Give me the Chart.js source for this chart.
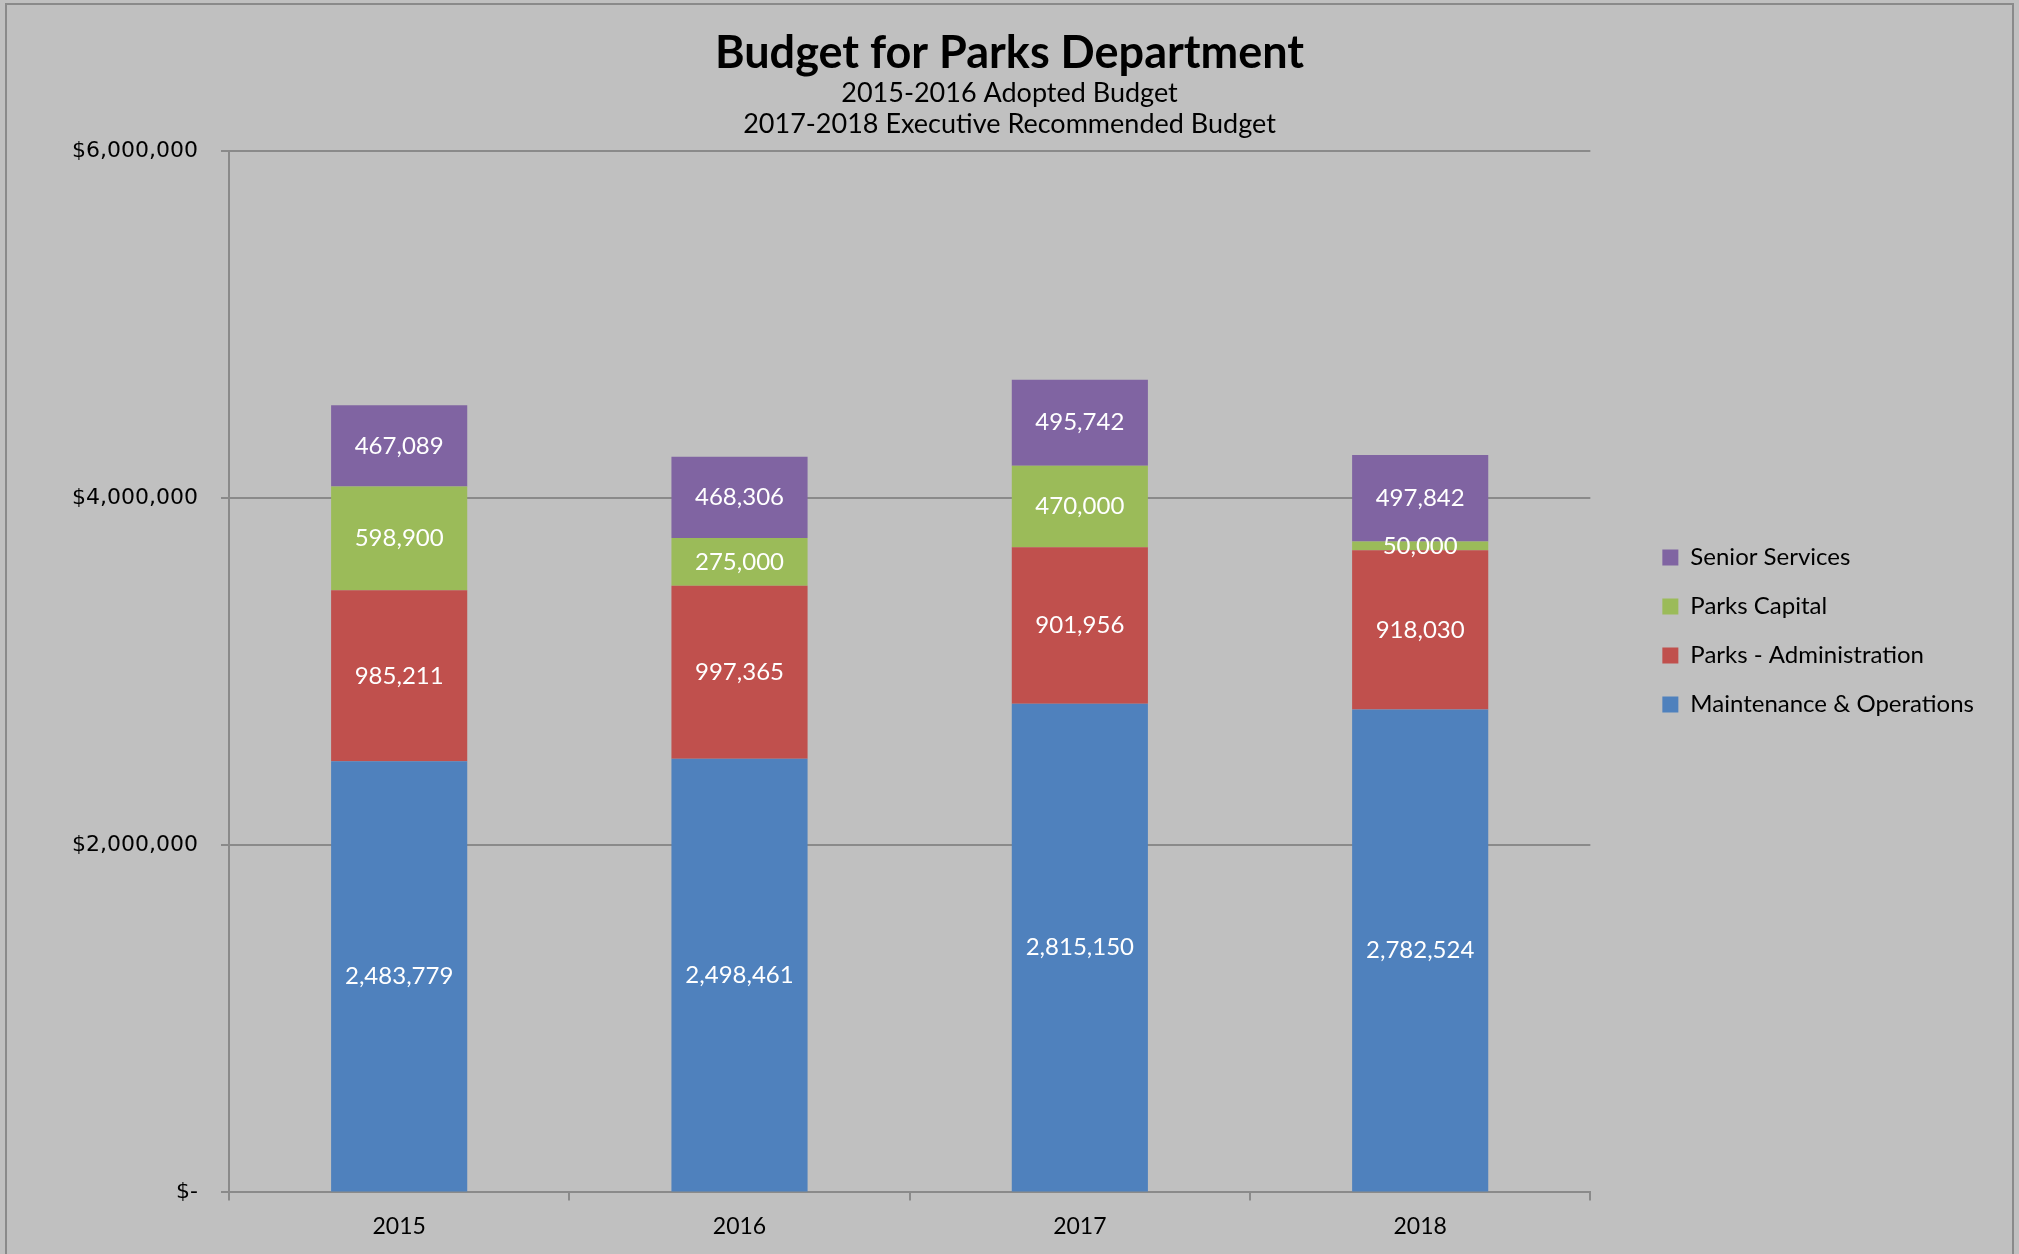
<!DOCTYPE html>
<html>
<head>
<meta charset="utf-8">
<script src="https://cdn.jsdelivr.net/npm/chart.js@4"></script>
<style>
  html, body { margin: 0; padding: 0; background: #c0c0c0; }
  canvas { display: block; }
</style>
</head>
<body>
<canvas id="myChart" width="2019" height="1254"></canvas>
<script>
/* global Chart */
const years = ["2015", "2016", "2017", "2018"];
const maintenance = [2483779, 2498461, 2815150, 2782524];
const administration = [985211, 997365, 901956, 918030];
const capital = [598900, 275000, 470000, 50000];
const senior = [467089, 468306, 495742, 497842];
const yTicks = [0, 2000000, 4000000, 6000000];

const fmt = (v) => v.toLocaleString("en-US");

// gray chart background + thin frame
const background = {
  id: "background",
  beforeDraw(chart) {
    const ctx = chart.ctx;
    ctx.save();
    ctx.fillStyle = "#c0c0c0";
    ctx.fillRect(0, 0, chart.width, chart.height);
    ctx.strokeStyle = "#8a8a8a";
    ctx.lineWidth = 2;
    ctx.beginPath();
    ctx.moveTo(6, chart.height);
    ctx.lineTo(6, 4);
    ctx.lineTo(2013, 4);
    ctx.lineTo(2013, chart.height);
    ctx.stroke();
    ctx.restore();
  },
};

// white value labels centred in each segment
const valueLabels = {
  id: "valueLabels",
  afterDatasetsDraw(chart) {
    const ctx = chart.ctx;
    ctx.save();
    ctx.fillStyle = "#ffffff";
    ctx.font = "24px Lato";
    ctx.textAlign = "center";
    ctx.textBaseline = "middle";
    chart.data.datasets.forEach((ds, i) => {
      chart.getDatasetMeta(i).data.forEach((bar, j) => {
        ctx.fillText(fmt(ds.data[j]), bar.x, (bar.y + bar.base) / 2);
      });
    });
    ctx.restore();
  },
};

const gridColor = "#8a8a8a";

var ctx = document.getElementById("myChart").getContext("2d");
var myChart = new Chart(ctx, {
  type: "bar",
  data: {
    labels: years,
    datasets: [
      { label: "Maintenance & Operations", data: maintenance, backgroundColor: "#4f81bd" },
      { label: "Parks - Administration", data: administration, backgroundColor: "#c0504d" },
      { label: "Parks Capital", data: capital, backgroundColor: "#9bbb59" },
      { label: "Senior Services", data: senior, backgroundColor: "#8064a2" },
    ],
  },
  plugins: [background, valueLabels],
  options: {
    responsive: false,
    animation: false,
    layout: { padding: { top: 10, left: 35, right: 35, bottom: 2 } },
    datasets: { bar: { barPercentage: 0.4, categoryPercentage: 1.0 } },
    plugins: {
      tooltip: { enabled: false },
      title: {
        display: true,
        text: "Budget for Parks Department",
        color: "#000",
        font: { family: "Lato", size: 45, weight: "bold", lineHeight: 1.0 },
        padding: { top: 21, bottom: 2 },
      },
      subtitle: {
        display: true,
        text: ["2015-2016 Adopted Budget", "2017-2018 Executive Recommended Budget"],
        color: "#000",
        font: { family: "Lato", size: 27, lineHeight: 1.15 },
        padding: { top: 0, bottom: 11 },
      },
      legend: {
        position: "right",
        reverse: true,
        labels: {
          color: "#000",
          font: { family: "Lato", size: 24 },
          boxWidth: 16,
          boxHeight: 16,
          padding: 25,
        },
      },
    },
    scales: {
      x: {
        stacked: true,
        grid: { offset: true, drawOnChartArea: false, color: gridColor, lineWidth: 2, tickLength: 8 },
        border: { color: gridColor, width: 2 },
        ticks: { color: "#000", font: { family: "Lato", size: 23 }, padding: 12 },
      },
      y: {
        stacked: true,
        min: 0,
        max: 6000000,
        afterBuildTicks: (scale) => {
          scale.ticks = yTicks.map((v) => ({ value: v }));
        },
        afterFit: (scale) => {
          scale.width = 194;
        },
        grid: { color: gridColor, lineWidth: 2, tickLength: 8 },
        border: { color: gridColor, width: 2 },
        ticks: {
          color: "#000",
          font: { family: "DejaVu Sans", size: 22 },
          padding: 23,
          callback: (v) => (v === 0 ? "$-" : "$" + fmt(v)),
        },
      },
      // empty spacer between plot and legend
      gap: {
        display: false,
        position: "right",
        afterFit: (scale) => {
          scale.width = 47;
        },
      },
    },
  },
});
</script>
</body>
</html>
